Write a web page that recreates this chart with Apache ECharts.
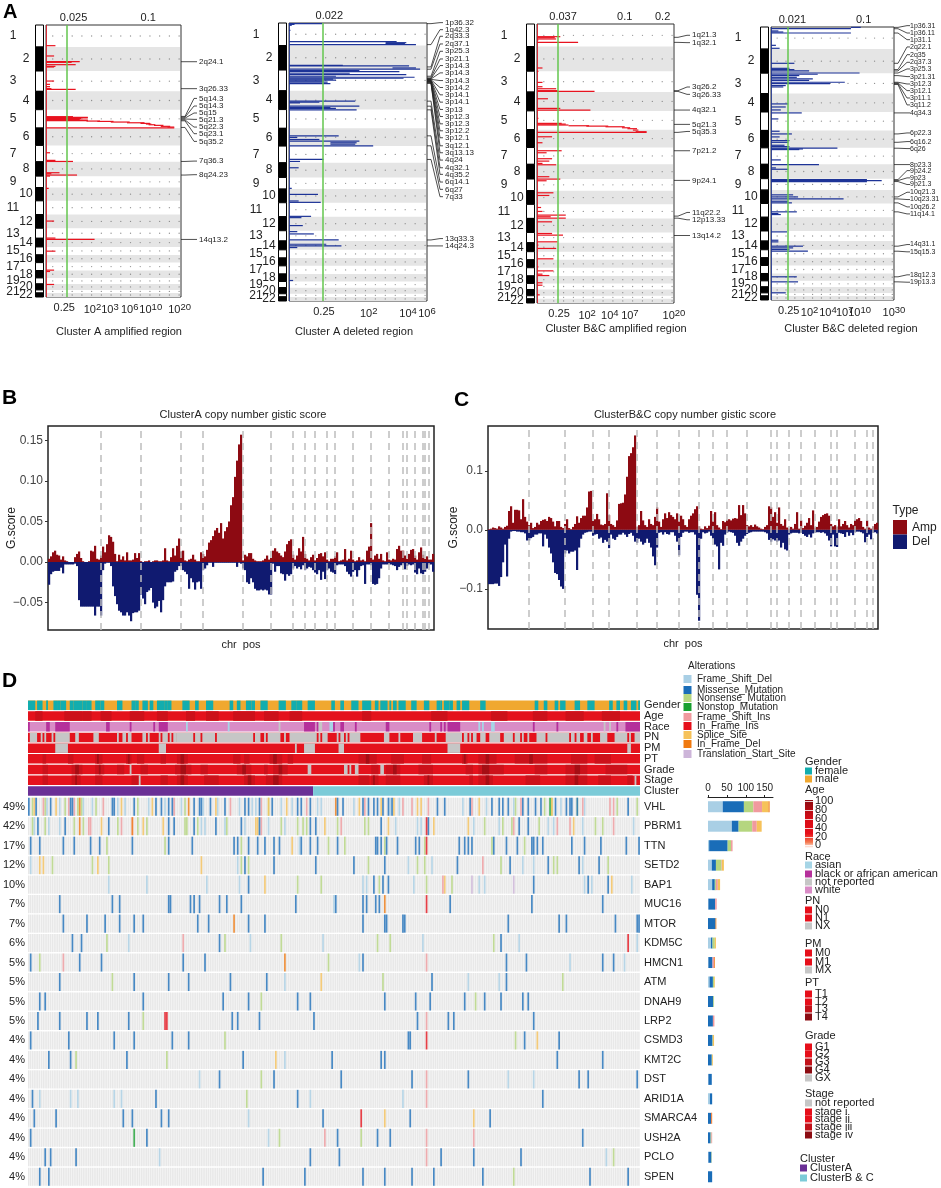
<!DOCTYPE html>
<html>
<head>
<meta charset="utf-8">
<style>html,body{margin:0;background:#fff}#chart{width:941px;height:1188px}</style>
<script src="https://cdn.jsdelivr.net/npm/echarts@6/dist/echarts.min.js"></script>
</head>
<body>
<div id="chart"></div>
<script>
// chromosome extents along the y axis of the four GISTIC panels
var chromLengths = [246,268,227,205,205,194,183,160,127,149,153,153,112,97,89,86,89,82,67,67,34,45];

// panel A: [genome position, score on the display scale 0-100, optional score the stroke starts from]
var peaksAmpA = [[231,7],[346,6],[410,25],[417,19],[443,22],[462,7],[469,6],[626,6],[663,3],[689,3],[711,4],[719,22],
  [1024,20],[1032,31],[1039,31],[1046,26],[1054,25],[1062,31],[1069,31],[1073,40,30],[1077,50,38],[1084,62,48],[1092,73,60],[1099,77,70],[1106,78,74],[1114,81,76],[1121,87,80],[1132,92,85],[1140,95,90],[1148,95],
  [1427,3],[1512,7],[1524,20],[1650,10],[1661,4],[1676,23],[1687,3],[1825,2],[2190,6],[2380,7],[2395,36],[2526,7],[2738,6],[2753,3],[2898,6]];
var peaksDelA = [[7,24],[15,4],[25,2],[80,1],[204,78],[215,85,70],[225,84,70],[236,92],[462,39],[469,87],[491,92,75],[505,95],[520,51],[531,80],[549,44],[564,85],[582,34],[593,91],[604,83],[614,32],[625,34],[636,25],[647,28],[662,30],
  [854,48],[865,22],[873,8],[909,51],[924,30],[934,34],[949,49],[1233,36],[1251,6],[1273,22],[1291,51],[1309,49,30],[1324,48,30],[1342,61],[1491,25],[1513,8],[1582,7],[1807,2],[1873,21],[1945,7],[1960,23],
  [2113,16],[2127,9],[2214,10],[2280,6],[2305,18],[2371,36],[2418,27],[2436,38],[2454,6],[2814,3]];
var peaksAmpBC = [[138,17],[149,13],[163,14],[174,1],[200,30],[479,4],[516,1],[636,4],[683,4],[705,14],[726,15],[734,42],[814,8],[919,17],[937,39],[1028,1],
  [1082,18],[1090,21],[1100,23],[1108,38,23],[1112,52,36],[1119,64,50],[1130,68,62],[1140,73,66],[1155,74,70],[1173,80,72],[1180,80],[1228,11],[1293,4],[1380,18],[1402,7],[1467,11],[1493,9],[1518,4],[1533,14],[1663,9],[1689,17],[1707,7],
  [1838,12],[1867,9],[1998,3],[2041,4],[2081,21],[2099,10],[2114,21],[2154,11],[2281,11],[2299,19],[2372,15],[2408,1],[2444,14],[2557,12],[2644,1],[2688,12],[2724,4],[2739,9],[2818,4],[2844,4],[2949,2]];
var peaksDelBC = [[4,73,65],[19,65],[44,6],[56,10],[67,65],[204,4],[237,7],[404,19],[460,15],[474,19],[489,31],[512,72],[526,38],[541,23],[560,21],[578,34],[593,31],[615,60],[630,48],[652,12],[667,10],
  [856,14],[890,12],[923,8],[956,25],[1023,6],[1160,7],[1190,17],[1223,7],[1264,15],[1283,14],[1316,11],[1331,15],[1349,54],[1357,26],[1364,23],[1479,8],[1531,39],[1568,4],[1583,14],[1698,78],[1709,90],[1720,78],
  [1868,18],[1891,22],[1913,59],[1939,14],[1957,17],[2057,21],[2076,6],[2087,8],[2280,13],[2373,6],[2391,6],[2439,26],[2458,18],[2476,15],[2495,30],[2780,21],[2836,22],[2958,12]];

// peak labels: names and [peak position, label position]
var labelNamesAmpA = ['2q24.1','3q26.33','5q14.3','5q14.3','5q15','5q21.3','5q22.3','5q23.1','5q35.2','7q36.3','8q24.23','14q13.2'];
var labelPosAmpA = [[410,410],[711,711],[1021,820],[1030,905],[1040,983],[1050,1054],[1060,1140],[1070,1214],[1144,1300],[1524,1520],[1676,1672],[2395,2395]];
var labelNamesDelA = ['1p36.32','1q42.3','2q33.3','2q37.1','3p25.3','3p21.1','3p14.3','3p14.3','3p14.3','3p14.2','3p14.1','3p14.1','3p13','3p12.3','3p12.3','3p12.2','3p12.1','3q12.1','3q13.13','4q24','4q32.1','4q35.2','6q14.1','6q27','7q33','13q33.3','14q24.3'];
var labelPosDelA = [[7,-4],[236,73],[480,145],[505,229],[582,309],[600,393],[608,465],[612,545],[616,629],[620,705],[624,785],[628,865],[632,945],[636,1022],[640,1102],[644,1178],[648,1254],[654,1342],[660,1418],[854,1498],[909,1582],[949,1654],[1233,1738],[1342,1818],[1491,1898],[2371,2356],[2436,2436]];
var labelNamesAmpBC = ['1q21.3','1q32.1','3q26.2','3q26.33','4q32.1','5q21.3','5q35.3','7p21.2','9p24.1','11q22.2','12p13.33','13q14.2'];
var labelPosAmpBC = [[145,123],[200,203],[726,686],[734,766],[937,937],[1093,1093],[1180,1170],[1380,1380],[1703,1703],[2092,2052],[2114,2132],[2303,2303]];
var labelNamesDelBC = ['1p36.31','1p36.11','1p31.1','2q22.1','2q35','2q37.3','3p25.3','3p21.31','3p12.3','3p12.1','3p11.1','3q11.2','4q34.3','6p22.3','6q16.2','6q26','8p23.3','9p24.2','9p23','9p21.3','10q21.3','10q23.31','10q26.2','11q14.1','14q31.1','15q15.3','18q12.3','19p13.3'];
var labelPosDelBC = [[4,-15],[19,67],[67,141],[404,222],[474,308],[489,393],[512,467],[541,552],[615,634],[623,708],[630,790],[640,867],[956,956],[1190,1179],[1283,1275],[1349,1353],[1531,1531],[1698,1598],[1709,1679],[1720,1753],[1891,1839],[1913,1920],[1957,2002],[2057,2080],[2439,2421],[2495,2502],[2780,2758],[2836,2840]];

// tick labels of the four panels, positions on the 0-100 display scale
var bottomPosAmpA = [13.5,34.4,47.4,62,77.6,99], bottomNamesAmpA = ['0.25','10^2','10^3','10^6','10^10','10^20'];
var topPosAmpA = [20.4,75.7], topNamesAmpA = ['0.025','0.1'];
var bottomPosDelA = [25.3,57.8,86.3,100], bottomNamesDelA = ['0.25','10^2','10^4','10^6'];
var topPosDelA = [29.2], topNamesDelA = ['0.022'];
var bottomPosAmpBC = [16.1,36.6,53.2,67.8,100], bottomNamesAmpBC = ['0.25','10^2','10^4','10^7','10^20'];
var topPosAmpBC = [19,64,91.7], topNamesAmpBC = ['0.037','0.1','0.2'];
var bottomPosDelBC = [14.4,31.4,46.3,59.9,72,100], bottomNamesDelBC = ['0.25','10^2','10^4','10^7','10^10','10^30'];
var topPosDelBC = [17.4,75.3], topNamesDelBC = ['0.021','0.1'];

// panels B and C: G score in thousandths, one value per genome bin
var ampB = [4,7,12,14,9,8,3,7,2,1,0,0,0,6,10,13,5,1,0,0,
  1,14,13,20,4,3,8,19,12,22,33,31,25,10,1,9,3,7,2,12,
  2,2,3,11,5,11,1,0,1,1,2,0,1,2,2,1,1,2,17,2,
  1,6,17,8,20,29,13,14,2,1,3,4,9,3,1,1,12,10,7,15,
  24,27,32,39,42,36,48,29,38,43,50,70,80,105,125,145,157,2,9,7,
  11,11,4,2,1,1,1,2,4,8,3,5,14,17,13,11,8,6,13,22,
  26,28,9,3,8,17,13,31,10,4,2,6,9,2,5,10,11,7,12,3,
  1,4,4,7,12,1,2,3,16,2,4,14,3,1,2,6,2,3,1,14,
  19,48,3,8,10,4,10,2,1,12,3,2,4,3,16,20,14,14,8,4,
  10,15,16,8,3,12,18,9,4,7,3,3,10];
var delB = [28,15,12,11,11,11,7,14,3,3,3,3,3,2,5,47,55,55,55,55,
  55,55,55,66,55,55,66,10,2,1,1,5,30,42,52,60,62,66,66,62,
  66,73,63,62,62,60,40,45,52,37,35,32,50,57,55,48,62,47,30,25,
  25,25,24,12,10,5,5,10,12,15,33,20,25,34,25,24,33,10,8,4,
  1,1,6,1,1,1,1,1,1,1,1,1,1,1,6,1,2,8,10,25,
  27,20,25,33,35,35,34,35,34,35,40,40,2,12,5,5,14,15,23,15,
  17,15,8,5,8,6,9,4,10,8,6,7,10,13,15,10,22,12,21,10,
  8,12,13,15,4,3,3,3,5,12,15,18,12,10,18,10,5,4,27,3,
  3,4,27,28,27,20,8,3,3,3,3,3,4,5,10,6,4,3,9,5,
  3,4,3,13,15,8,14,15,12,8,3,3,12];
var ampC = [1,2,4,3,2,6,4,2,5,7,32,40,12,34,34,33,18,52,22,14,
  8,12,3,5,12,9,15,17,18,15,22,20,14,6,15,15,5,3,10,18,
  3,1,5,10,23,12,20,24,24,38,65,66,15,18,27,18,9,8,10,62,
  25,10,8,5,16,44,45,46,60,90,125,130,140,160,5,8,32,16,8,5,
  18,10,8,22,38,14,5,18,28,20,30,25,22,18,28,14,24,18,8,5,
  18,24,28,35,40,6,2,1,6,3,7,32,14,30,8,4,1,15,13,17,
  18,16,19,20,19,42,25,42,28,8,6,8,5,9,6,4,2,1,5,8,
  40,38,22,30,12,38,10,7,18,4,2,5,2,10,30,2,16,3,7,12,
  20,8,33,4,5,14,22,25,27,28,24,10,6,8,5,18,6,10,15,8,
  4,10,8,16,18,20,15,5,2,16,4,2,6,10,12];
var delC = [92,92,92,91,91,95,80,55,25,79,15,3,2,2,3,3,4,4,6,18,
  18,14,12,8,8,6,6,28,8,15,30,40,55,73,75,85,96,100,40,35,
  40,37,37,35,68,30,15,8,5,4,3,3,10,8,7,15,13,22,17,20,
  31,8,15,17,12,8,8,5,8,12,7,5,10,20,22,15,20,25,22,15,
  22,30,45,60,30,5,4,8,4,7,8,4,4,10,20,43,12,5,3,3,
  5,4,4,8,110,154,15,4,6,5,3,10,15,25,28,67,22,27,8,5,
  3,4,5,10,22,27,20,15,10,7,5,4,3,3,3,3,3,3,4,6,
  17,20,16,18,20,18,30,22,33,35,8,6,5,5,5,6,5,7,10,12,
  8,13,6,5,4,4,5,4,6,10,18,28,8,28,29,5,6,7,12,4,
  10,5,9,4,3,3,4,6,21,12,8,16,5,4,6];
var breaksB = [26,46,66,77,97,111,122,128,133,139,143,152,161,170,177,179,183,187,188,190];
var breaksC = [20,38,52,60,74,84,95,105,112,119,129,141,144,150,156,163,171,174,183,189,192];

// panel D
var sampleCount = 337;
var clusterAEnd = 156;
var trackNames = ['Gender','Age','Race','PN','PM','PT','Grade','Stage','Cluster'];
var geneNames = ['VHL','PBRM1','TTN','SETD2','BAP1','MUC16','MTOR','KDM5C','HMCN1','ATM','DNAH9','LRP2','CSMD3','KMT2C','DST','ARID1A','SMARCA4','USH2A','PCLO','SPEN'];
var genePercents = ['49%','42%','17%','12%','10%','7%','7%','6%','5%','5%','5%','5%','4%','4%','4%','4%','4%','4%','4%','4%'];

// annotation tracks as runs of samples [first, last]
var genderFemale = [[0,3],[5,7],[10,10],[14,15],[16,17],[18,20],[23,24],[25,29],[30,31],[32,34],[37,39],[40,41],[49,51],[57,58],[59,60],[63,65],[67,68],[71,74],[75,76],[77,78],[85,86],[87,88],[92,93],[98,101],[111,112],[115,116],[120,122],[123,124],[128,131],[138,141],[145,147],[148,150],[154,157],[167,168],[172,173],[178,181],[184,188],[191,192],[194,197],[199,199],[201,202],[204,207],[211,213],[218,220],[225,226],[227,227],[229,231],[232,233],[236,237],[239,242],[249,251],[279,280],[284,285],[290,291],[293,295],[301,303],[308,309],[310,311],[320,321],[324,325],[328,329],[332,334],[336,336]];
var raceBlack = [[0,0],[10,11],[15,22],[43,44],[56,56],[69,69],[72,76],[152,157],[159,159],[167,168],[172,173],[180,180],[197,198],[221,221],[227,227],[229,229],[231,237],[278,278],[291,291],[324,324],[329,336]];
var raceAsian = [[87,87],[110,110],[166,167],[248,248],[250,250],[255,256]];
var raceNotReported = [[138,138],[160,161],[317,317],[320,320]];
var pnNX = [[1,4],[7,7],[9,9],[13,13],[15,22],[26,27],[36,38],[49,49],[52,53],[55,56],[63,64],[66,66],[72,72],[74,76],[78,78],[80,81],[82,90],[92,94],[96,102],[104,123],[125,127],[130,130],[132,138],[141,141],[144,158],[160,160],[162,164],[170,170],[172,173],[175,175],[177,182],[196,198],[204,204],[212,216],[224,224],[230,238],[240,241],[243,243],[245,246],[249,251],[254,259],[262,266],[268,270],[272,272],[275,275],[280,284],[286,297],[299,300],[302,303],[306,307],[310,310],[315,318],[323,329],[331,331],[334,336]];
var pmMX = [[15,21],[72,75],[147,147],[152,157],[171,173],[231,237],[330,331]];
var gradeGX = [[56,56],[154,155],[174,175],[177,177],[180,181],[194,195]];
var stageNotReported = [[61,61],[334,334]];
var ageDark = [[4,7],[20,29],[30,34],[40,45],[56,63],[71,76],[87,91],[98,104],[113,124],[130,137],[144,150],[184,188],[222,230],[255,263],[278,285],[296,305],[316,325]];
var ptDark = [[8,9],[22,24],[37,40],[54,56],[60,63],[73,75],[82,87],[113,116],[119,121],[133,139],[143,145],[182,191],[200,206],[217,221],[239,241],[248,257],[268,285],[299,307],[312,320]];
var ptDarkest = [[38,38],[55,55],[84,85],[135,136],[186,187],[240,240],[252,253],[276,277]];
var gradeDark = [[8,10],[24,29],[37,41],[49,52],[62,65],[81,89],[95,98],[115,122],[130,131],[135,142],[189,192],[197,204],[215,222],[241,244],[248,261],[279,285],[296,307],[318,329]];
var gradeDarkest = [[26,27],[39,39],[84,86],[118,119],[138,139],[201,202],[250,253],[301,303]];
var stageDark = [[8,10],[24,28],[37,40],[57,60],[73,76],[82,87],[97,104],[119,124],[131,139],[182,187],[189,192],[197,204],[218,222],[243,244],[248,255],[274,281],[296,307],[314,320],[330,332]];
var stageDarkest = [[26,26],[84,85],[121,122],[135,137],[190,190],[220,220],[252,253],[301,302]];

// mutated samples per gene (same order as geneNames), one list per alteration type
var frameShiftDel = [
  [10,17,30,35,49,53,66,75,84,96,104,116,123,125,139,145,159,161,179,199,204,239,252,267,293,306],
  [3,11,17,95,97,108,119,132,141,202,214,216,245,259,286,289,305,333],
  [149],[1,115,209,222,272,278,305],[44,65,98,116,184,186,212,248,251,306,310,332],[168],[],
  [55,122,162,217,270,335],[182,298,328],[141,242,259],[],[],[],[141],[94,264,278],
  [6,23,27,47,51,155,206],[121],[132],[72,318],[]];
var missense = [
  [0,4,12,23,24,46,47,58,70,73,77,79,91,94,95,100,108,119,121,127,134,148,150,155,170,173,184,187,190,192,195,198,200,225,229,243,255,259,261,264,272,275,279,282,290,296,298,299,302,330],
  [5,20,44,77,80,91,103,117,127,155,158,194,220,270,275],
  [1,6,19,25,34,39,57,77,90,113,115,121,126,130,135,138,150,155,159,170,191,192,194,197,203,213,215,237,240,242,244,256,263,269,277,278,280,283,299,306,315,329,336],
  [119,135,158,179,196,236,265,286,303,314],
  [121,190,195,198,278,308,319],
  [17,46,50,77,78,89,91,94,105,109,117,147,169,184,186,191,193,232,277,316],
  [19,32,42,50,58,63,93,99,121,130,184,196,197,206,207,264,292,296,323,335,336],
  [24,29,105,260],
  [1,28,40,85,97,184,263,274,316,322],
  [17,58,77,88,111,131,222,263],
  [6,9,63,107,121,148,155,196,213,221,240,251,260,272,275],
  [5,17,32,38,55,112,115,127,157,214,231,234,278],
  [1,22,47,58,79,88,209,210,273,292],
  [11,23,54,118,167,194,196,291,316],
  [105,135,172,211,242,303,308,335],
  [2,70,148,283],
  [3,15,52,57,73,77,162,210,254],
  [1,65,170,192,199,305],
  [9,12,26,155,171,227,245,271],
  [6,11,129,152,184,196,211,223,250,309,330]];
var nonsense = [
  [2,9,20,27,29,37,60,86,132,268,284,288,302,324,335],
  [2,9,25,30,49,60,65,86,87,93,109,139,148,151,153,170,185,187,251,261,266,281,312,316],
  [43,75,117,165,174,196,218,255,273],
  [13,35,44,117,121,187,214,218,260,289,291,319],
  [148,161,193,219,233],[],[],
  [43,108,139,192,199,256],[6,165],[46,195,294],[128,246],[63],[108,268],[26,76],[128],[120],[],
  [138,183],[322],[267]];
var nonstop = [[287],[],[],[],[],[],[],[],[],[],[],[],[],[],[],[],[],[58],[],[]];
var frameShiftIns = [
  [8,22,25,41,80,111,128,153,185,206,211,220,244,271,305,320,322],
  [33,34,51,57,128,172,267,291,298,322],
  [],[250],[228],[],[],[85],[19,219],[],[],[219],[],[],[219],[219],[],[163,219,245],[219],[]];
var inFrameIns = [[],[219],[219],[],[],[219],[],[330],[],[],[],[75,76],[219],[],[],[],[183],[],[],[]];
var spliceSite = [
  [3,15,51,68,103,132,142,182,194,201,214,216,248,288],
  [40,63,74,125,126,163,198,223,242,300],
  [145],[6,8,38,95],[130,229,321],[],[],[],[],[161],[],[],[280],[136],[],[],[196,245],[],[],[]];
var inFrameDel = [[28,88,169],[28,57],[],[],[],[196],[113],[],[141],[],[],[],[],[],[],[],[],[],[],[]];
var translationStart = [[],[],[],[],[244,267],[],[],[],[],[],[],[],[],[],[],[],[],[],[],[]];

// counts per gene for the side bars
var countFrameShiftDel = [39,63,3,10,11,1,0,8,1,4,0,0,0,0,1,5,0,0,1,0];
var countMissense = [56,18,49,11,7,18,20,4,11,9,14,13,12,10,9,6,8,7,8,11];
var countNonsense = [25,36,9,15,3,0,0,6,0,3,2,0,1,1,0,0,0,2,1,0];
var countNonstop = [0,0,0,0,0,0,0,0,0,0,0,0,0,0,0,0,0,0,0,0];
var countFrameShiftIns = [23,12,4,1,5,4,0,0,4,0,0,4,0,0,0,0,0,2,0,0];
var countInFrameIns = [0,0,0,0,0,0,0,0,0,0,0,0,0,0,0,0,1,0,0,0];
var countSplice = [17,13,0,5,6,0,0,3,0,2,0,0,3,2,0,0,0,0,0,0];
var countInFrameDel = [3,0,0,0,0,0,2,0,2,0,0,0,0,0,0,0,2,0,0,0];

var alterationNames = ['Frame_Shift_Del','Missense_Mutation','Nonsense_Mutation','Nonstop_Mutation','Frame_Shift_Ins','In_Frame_Ins','Splice_Site','In_Frame_Del','Translation_Start_Site'];
var alterationColors = ['#a9cfe5','#1a6db8','#b5d67f','#18a030','#f09a9e','#e60f1a','#f6c25a','#f07a10','#cdb5d9'];

var AMP = '#8d0a12', DEL = '#101a70', RED = '#e60f1a', RED2 = '#c2121a', RED3 = '#8c0c12', GREY = '#c6c6c6';
var FONT = '"Liberation Sans", Arial, sans-serif';

var chromStarts = [];
chromLengths.reduce(function (sum, len, i) { chromStarts[i] = sum; return sum + len; }, 0);
var genomeLength = chromStarts[21] + chromLengths[21];

function text(x, y, str, size, opts) {
    opts = opts || {};
    return {
        type: 'text', x: x, y: y, rotation: opts.rotation || 0, silent: true,
        style: {
            text: str, font: (opts.bold ? 'bold ' : '') + size + 'px ' + FONT, fill: opts.color || '#222',
            align: opts.align || 'left', verticalAlign: 'middle', textAlign: opts.align || 'left', textVerticalAlign: 'middle'
        }
    };
}

function tickFormatter(positions, names) {
    return function (value) {
        var name = names[positions.indexOf(value)] || '';
        var parts = name.split('^');
        return parts.length > 1 ? '{b|' + parts[0] + '}{s|' + parts[1] + '}' : name;
    };
}

var grids = [], xAxes = [], yAxes = [], series = [];

function addGisticPanel(box, peaks, color, greenAt, bottomPos, bottomNames, topPos, topNames, labelPos, labelNames) {
    var g = grids.length;
    grids.push({ left: box.left, top: box.top, width: box.width, height: box.height, outerBoundsMode: 'none', show: true, borderColor: '#333', borderWidth: 1, backgroundColor: 'transparent' });
    var xi = xAxes.length;
    xAxes.push({
        gridIndex: g, type: 'value', min: 0, max: 100, position: 'bottom', axisLine: { show: false }, axisTick: { show: false }, splitLine: { show: false },
        axisLabel: {
            customValues: bottomPos, margin: 5, hideOverlap: false, color: '#222', fontSize: 11, formatter: tickFormatter(bottomPos, bottomNames),
            rich: { b: { fontSize: 11, color: '#222' }, s: { fontSize: 9.5, color: '#222', padding: [0, 0, 6, 0] } }
        }
    });
    xAxes.push({
        gridIndex: g, type: 'value', min: 0, max: 100, position: 'top', axisLine: { show: false }, axisTick: { show: false }, splitLine: { show: false },
        axisLabel: { customValues: topPos, margin: 2, color: '#222', fontSize: 11, formatter: tickFormatter(topPos, topNames) }
    });
    var yi = yAxes.length;
    yAxes.push({ gridIndex: g, type: 'value', min: 0, max: genomeLength, inverse: true, show: false, splitLine: { show: false } });

    var chromData = chromLengths.map(function (len, i) { return [i, chromStarts[i], chromStarts[i] + len]; });
    // grey bands of the even chromosomes, ideogram and chromosome numbers
    series.push({
        type: 'custom', xAxisIndex: xi, yAxisIndex: yi, z: 1, silent: true, data: chromData,
        renderItem: function (params, api) {
            var i = api.value(0), a = api.coord([0, api.value(1)]), b = api.coord([100, api.value(2)]);
            var even = i % 2 === 1, children = [];
            if (even) children.push({ type: 'rect', shape: { x: a[0] + 1, y: a[1], width: b[0] - a[0] - 2, height: b[1] - a[1] }, style: { fill: '#e5e5e5' } });
            children.push({ type: 'rect', shape: { x: a[0] - 10.5, y: a[1], width: 8, height: b[1] - a[1] }, style: { fill: even ? '#000' : '#fff', stroke: '#000', lineWidth: 1 } });
            children.push({
                type: 'text',
                style: { text: String(i + 1), x: a[0] - (even ? 20 : 33), y: (a[1] + b[1]) / 2, font: '12px ' + FONT, fill: '#222', align: 'center', verticalAlign: 'middle', textAlign: 'center', textVerticalAlign: 'middle' }
            });
            return { type: 'group', children: children };
        }
    });
    // dotted guide at every chromosome centre
    var dots = [];
    chromLengths.forEach(function (len, i) {
        for (var d = 5; d < 100; d += 7.2) dots.push([d, chromStarts[i] + len / 2]);
    });
    series.push({ type: 'scatter', xAxisIndex: xi, yAxisIndex: yi, z: 2, silent: true, symbolSize: 1.3, itemStyle: { color: '#777' }, data: dots });
    series.push({
        type: 'custom', xAxisIndex: xi, yAxisIndex: yi, z: 3, silent: true,
        data: peaks.map(function (p) { return [p[0], p[1], p[2] || 0]; }),
        renderItem: function (params, api) {
            var a = api.coord([api.value(2), api.value(0)]), b = api.coord([api.value(1), api.value(0)]);
            return { type: 'rect', shape: { x: a[0], y: a[1] - 0.6, width: b[0] - a[0], height: 1.2 }, style: { fill: color } };
        },
        markLine: {
            silent: true, symbol: 'none', label: { show: false }, animation: false, lineStyle: { color: '#63c64e', width: 1.5, type: 'solid' },
            data: [{ xAxis: greenAt }, { xAxis: 0.3, lineStyle: { color: color, width: 0.8, type: 'solid' } }]
        }
    });
    // labels of the peaks with their leader lines
    series.push({
        type: 'custom', xAxisIndex: xi, yAxisIndex: yi, z: 4, silent: true, data: labelPos,
        renderItem: function (params, api) {
            var p = api.coord([100, api.value(0)]), l = api.coord([100, api.value(1)]);
            return {
                type: 'group',
                children: [
                    { type: 'polyline', shape: { points: [[p[0], p[1]], [p[0] + 4, p[1]], [p[0] + 13, l[1]], [p[0] + 16, l[1]]] }, style: { stroke: '#222', lineWidth: 0.8, fill: 'none' } },
                    { type: 'text', style: { text: labelNames[params.dataIndex], x: p[0] + box.labelGap, y: l[1], font: box.labelSize + 'px ' + FONT, fill: '#222', align: 'left', verticalAlign: 'middle', textAlign: 'left', textVerticalAlign: 'middle' } }
                ]
            };
        }
    });
}

addGisticPanel({ left: 46, top: 25, width: 135, height: 272, labelGap: 18, labelSize: 8 }, peaksAmpA, '#e8131f', 15.5, bottomPosAmpA, bottomNamesAmpA, topPosAmpA, topNamesAmpA, labelPosAmpA, labelNamesAmpA);
addGisticPanel({ left: 289, top: 23, width: 138, height: 278, labelGap: 18, labelSize: 8 }, peaksDelA, '#1d3397', 24.1, bottomPosDelA, bottomNamesDelA, topPosDelA, topNamesDelA, labelPosDelA, labelNamesDelA);
addGisticPanel({ left: 537, top: 24, width: 137, height: 279, labelGap: 18, labelSize: 8 }, peaksAmpBC, '#e8131f', 15.4, bottomPosAmpBC, bottomNamesAmpBC, topPosAmpBC, topNamesAmpBC, labelPosAmpBC, labelNamesAmpBC);
addGisticPanel({ left: 771, top: 27, width: 123, height: 273, labelGap: 16, labelSize: 7 }, peaksDelBC, '#1d3397', 13.6, bottomPosDelBC, bottomNamesDelBC, topPosDelBC, topNamesDelBC, labelPosDelBC, labelNamesDelBC);

// one seamless column per genome bin
function binRenderer(color) {
    return function (params, api) {
        var base = api.coord([api.value(0), 0]), tip = api.coord([api.value(0), api.value(1)]), w = api.size([1, 0])[0];
        return {
            type: 'rect',
            shape: { x: base[0] - w / 2, y: Math.min(base[1], tip[1]), width: w + 0.2, height: Math.max(Math.abs(tip[1] - base[1]), 0.8) },
            style: { fill: color }
        };
    };
}

function addScorePanel(box, amp, del, breaks, yMin, yMax, ticks, decimals) {
    var g = grids.length;
    grids.push({ left: box.left, top: box.top, width: box.width, height: box.height, outerBoundsMode: 'none', show: true, borderColor: '#222', borderWidth: 1.5, backgroundColor: 'transparent' });
    var xi = xAxes.length;
    xAxes.push({
        gridIndex: g, type: 'category', data: amp.map(function (v, i) { return i; }), boundaryGap: true,
        axisLine: { show: false }, axisTick: { show: false }, axisLabel: { show: false }, splitLine: { show: false },
        name: 'chr  pos', nameLocation: 'middle', nameGap: 9, nameMoveOverlap: false, nameTextStyle: { fontSize: 11, color: '#222' }
    });
    var yi = yAxes.length;
    yAxes.push({
        gridIndex: g, type: 'value', min: yMin, max: yMax, splitLine: { show: false }, axisLine: { show: false },
        axisTick: { show: true, customValues: ticks, length: 3, lineStyle: { color: '#333' } },
        axisLabel: {
            customValues: ticks, margin: 5, color: '#444', fontSize: 12,
            formatter: function (v) { return (v < 0 ? '\u2212' : '') + (Math.abs(v) / 1000).toFixed(decimals); }
        },
        name: 'G.score', nameLocation: 'middle', nameGap: box.nameGap, nameRotate: 90, nameMoveOverlap: false, nameTextStyle: { fontSize: 12, color: '#222' }
    });
    series.push({
        name: 'Amp', type: 'custom', xAxisIndex: xi, yAxisIndex: yi, z: 2, silent: true,
        data: amp.map(function (v, i) { return [i, v]; }), itemStyle: { color: AMP }, renderItem: binRenderer(AMP),
        markLine: {
            silent: true, symbol: 'none', label: { show: false }, animation: false, z: 6,
            lineStyle: { color: '#bdbdbd', width: 1.5, type: [7, 5] },
            data: breaks.map(function (b) { return { xAxis: b }; })
        }
    });
    series.push({
        name: 'Del', type: 'custom', xAxisIndex: xi, yAxisIndex: yi, z: 3, silent: true,
        data: del.map(function (v, i) { return [i, -v]; }), itemStyle: { color: DEL }, renderItem: binRenderer(DEL)
    });
}

addScorePanel({ left: 48, top: 426, width: 386, height: 204, nameGap: 30 }, ampB, delB, breaksB, -83.8, 167.7, [-50, 0, 50, 100, 150], 2);
addScorePanel({ left: 488, top: 426, width: 390, height: 203, nameGap: 28 }, ampC, delC, breaksC, -168, 176, [-100, 0, 100], 1);

// oncoplot annotation tracks
function runs(row, list, color) {
    return list.map(function (r) { return [row, r[0], r[1], color]; });
}
var trackColors = ['#f0a830', '#12adae', '#e4121c', '#cc111a', '#a50e14', '#d98cc6', '#b5309b', '#a6d5e6', GREY, '#6a3096', '#7ccbd8'];
var trackRuns = [].concat(
    [[0, 0, sampleCount - 1, 0]], runs(0, genderFemale, 1),
    [[1, 0, sampleCount - 1, 2]], runs(1, ageDark, 3),
    [[2, 0, sampleCount - 1, 5]], runs(2, raceBlack, 6), runs(2, raceAsian, 7), runs(2, raceNotReported, 8),
    [[3, 0, sampleCount - 1, 2]], runs(3, pnNX, 8),
    [[4, 0, sampleCount - 1, 2]], runs(4, pmMX, 8),
    [[5, 0, sampleCount - 1, 2]], runs(5, ptDark, 3), runs(5, ptDarkest, 4),
    [[6, 0, sampleCount - 1, 2]], runs(6, gradeDark, 3), runs(6, gradeDarkest, 4), runs(6, gradeGX, 8),
    [[7, 0, sampleCount - 1, 2]], runs(7, stageDark, 3), runs(7, stageDarkest, 4), runs(7, stageNotReported, 8),
    [[8, 0, clusterAEnd, 9], [8, clusterAEnd + 1, sampleCount - 1, 10]]
);
var trackGrid = grids.length;
grids.push({ left: 28, top: 700, width: 612, height: 96.3, outerBoundsMode: 'none' });
var trackX = xAxes.length;
xAxes.push({ gridIndex: trackGrid, type: 'value', min: 0, max: sampleCount, show: false, splitLine: { show: false } });
var trackY = yAxes.length;
yAxes.push({
    gridIndex: trackGrid, type: 'category', data: trackNames, inverse: true, position: 'right',
    axisLine: { show: false }, axisTick: { show: false }, axisLabel: { color: '#222', fontSize: 11, margin: 4, interval: 0 }
});
series.push({
    type: 'custom', xAxisIndex: trackX, yAxisIndex: trackY, silent: true, data: trackRuns,
    renderItem: function (params, api) {
        var a = api.coord([api.value(1), api.value(0)]), b = api.coord([api.value(2) + 1, api.value(0)]), h = api.size([0, 1])[1] - 1.2;
        return { type: 'rect', shape: { x: a[0], y: a[1] - h / 2, width: b[0] - a[0], height: h }, style: { fill: trackColors[api.value(3)] } };
    }
});

// oncoplot mutation matrix
var matrixGrid = grids.length;
grids.push({ left: 28, top: 797, width: 612, height: 389.5, outerBoundsMode: 'none' });
var matrixX = xAxes.length;
xAxes.push({ gridIndex: matrixGrid, type: 'value', min: 0, max: sampleCount, show: false, splitLine: { show: false } });
var matrixY = yAxes.length;
yAxes.push({
    gridIndex: matrixGrid, type: 'category', data: geneNames, inverse: true, position: 'right',
    axisLine: { show: false }, axisTick: { show: false }, axisLabel: { color: '#222', fontSize: 11, margin: 4, interval: 0 }
});
yAxes.push({
    gridIndex: matrixGrid, type: 'category', data: genePercents, inverse: true, position: 'left',
    axisLine: { show: false }, axisTick: { show: false }, axisLabel: { color: '#222', fontSize: 11, margin: 3, interval: 0 }
});

function cellRenderer(color, gap, opacity) {
    return function (params, api) {
        var a = api.coord([api.value(0), api.value(1)]), b = api.coord([api.value(0) + 1, api.value(1)]), h = api.size([0, 1])[1] - 1.4;
        return { type: 'rect', shape: { x: a[0], y: a[1] - h / 2, width: b[0] - a[0] - gap, height: h }, style: { fill: color, opacity: opacity } };
    };
}
var matrixCells = [];
geneNames.forEach(function (g, row) {
    for (var s = 0; s < sampleCount; s++) matrixCells.push([s, row]);
});
series.push({ type: 'custom', xAxisIndex: matrixX, yAxisIndex: matrixY, silent: true, z: 1, data: matrixCells, renderItem: cellRenderer('#e8e8e8', 0.35, 1) });

var alterationLists = [frameShiftDel, missense, nonsense, nonstop, frameShiftIns, inFrameIns, spliceSite, inFrameDel, translationStart];
[0, 2, 6, 4, 8, 7, 3, 1, 5].forEach(function (t) {
    var cells = [];
    alterationLists[t].forEach(function (samples, row) {
        samples.forEach(function (s) { cells.push([s, row]); });
    });
    series.push({ type: 'custom', xAxisIndex: matrixX, yAxisIndex: matrixY, silent: true, z: 2, data: cells, renderItem: cellRenderer(alterationColors[t], 0.1, 0.78) });
});

// side bars with the mutation counts
var barGrid = grids.length;
grids.push({ left: 708, top: 797, width: 65, height: 389.5, outerBoundsMode: 'none' });
var barX = xAxes.length;
xAxes.push({
    gridIndex: barGrid, type: 'value', min: 0, max: 172, position: 'top', splitLine: { show: false },
    axisLine: { show: true, lineStyle: { color: '#222', width: 1 } },
    axisTick: { show: true, customValues: [0, 50, 100, 150], length: 2, lineStyle: { color: '#222' } },
    axisLabel: { customValues: [0, 50, 100, 150], color: '#222', fontSize: 10, margin: 4 }
});
var barY = yAxes.length;
yAxes.push({ gridIndex: barGrid, type: 'category', data: geneNames, inverse: true, show: false });
[countFrameShiftDel, countMissense, countNonsense, countNonstop, countFrameShiftIns, countInFrameIns, countSplice, countInFrameDel].forEach(function (counts, t) {
    series.push({ type: 'bar', xAxisIndex: barX, yAxisIndex: barY, stack: 'genes', barWidth: 11, silent: true, data: counts, itemStyle: { color: alterationColors[t] } });
});

// legends and titles of the figure
var graphics = [
    text(3, 12, 'A', 20, { bold: true, color: '#000' }),
    text(2, 398, 'B', 21, { bold: true, color: '#000' }),
    text(454, 400, 'C', 21, { bold: true, color: '#000' }),
    text(2, 681, 'D', 21, { bold: true, color: '#000' }),
    text(119, 332, 'Cluster A amplified region', 11, { align: 'center' }),
    text(354, 332, 'Cluster A deleted region', 11, { align: 'center' }),
    text(616, 329, 'Cluster B&C amplified region', 11, { align: 'center' }),
    text(851, 329, 'Cluster B&C deleted region', 11, { align: 'center' }),
    text(243, 415, 'ClusterA copy number gistic score', 11, { align: 'center' }),
    text(685, 415, 'ClusterB&C copy number gistic score', 11, { align: 'center' }),
    text(892.5, 511, 'Type', 12),
    text(688, 666, 'Alterations', 10)
];

function swatch(x, y, color, w, h) {
    return { type: 'rect', silent: true, shape: { x: x, y: y - h / 2, width: w, height: h }, style: { fill: color } };
}

var alterationLegendY = [679, 690, 698, 707, 717, 726, 735, 744, 754];
alterationNames.forEach(function (name, i) {
    graphics.push(swatch(683.5, alterationLegendY[i], alterationColors[i], 8, 8));
    graphics.push(text(697, alterationLegendY[i], name, 10));
});

function sideLegend(x, titleY, title, names, colors, ys) {
    graphics.push(text(x, titleY, title, 11));
    names.forEach(function (name, i) {
        graphics.push(swatch(x, ys[i], colors[i], 7, 7));
        graphics.push(text(x + 10, ys[i], name, 11));
    });
}
sideLegend(805, 762, 'Gender', ['female', 'male'], ['#12adae', '#f0a830'], [771, 779]);
sideLegend(805, 857, 'Race', ['asian', 'black or african american', 'not reported', 'white'], ['#a6d5e6', '#b5309b', GREY, '#d98cc6'], [865, 874, 882, 890]);
sideLegend(805, 901, 'PN', ['N0', 'N1', 'NX'], [RED, RED, GREY], [910, 918, 926]);
sideLegend(805, 944, 'PM', ['M0', 'M1', 'MX'], [RED, RED, GREY], [953, 962, 970]);
sideLegend(805, 983, 'PT', ['T1', 'T2', 'T3', 'T4'], [RED, RED, RED2, RED3], [994, 1002, 1009, 1017]);
sideLegend(805, 1036, 'Grade', ['G1', 'G2', 'G3', 'G4', 'GX'], [RED, RED, RED2, RED3, GREY], [1047, 1054, 1062, 1070, 1078]);
sideLegend(805, 1094, 'Stage', ['not reported', 'stage i', 'stage ii', 'stage iii', 'stage iv'], [GREY, RED, RED, RED2, RED3], [1103, 1112, 1119, 1127, 1135]);
sideLegend(800, 1159, 'Cluster', ['ClusterA', 'ClusterB & C'], ['#6a3096', '#7ccbd8'], [1168, 1178]);

// age colour bar
var ageTicks = ['100', '80', '60', '40', '20', '0'];
var ageTickY = [801, 810, 819, 828, 837, 845];
graphics.push(text(805, 790, 'Age', 11));
graphics.push({
    type: 'rect', silent: true, shape: { x: 805, y: 800, width: 8, height: 48 },
    style: {
        fill: new echarts.graphic.LinearGradient(0, 0, 0, 1, [
            { offset: 0, color: '#8c0c12' }, { offset: 0.4, color: '#d80c16' }, { offset: 0.7, color: '#e60f1a' }, { offset: 0.88, color: '#f47a50' }, { offset: 1, color: '#ffffff' }
        ])
    }
});
ageTicks.forEach(function (t, i) {
    graphics.push({ type: 'rect', silent: true, shape: { x: 805, y: ageTickY[i], width: 8, height: 0.8 }, style: { fill: '#fff' } });
    graphics.push(text(815, ageTickY[i], t, 11));
});

var chart = echarts.init(document.getElementById('chart'), null, { renderer: 'canvas' });
chart.setOption({
    animation: false,
    backgroundColor: '#fff',
    textStyle: { fontFamily: FONT },
    grid: grids,
    xAxis: xAxes,
    yAxis: yAxes,
    series: series,
    graphic: graphics,
    legend: {
        data: ['Amp', 'Del'], left: 893, top: 520, padding: 0, orient: 'vertical', itemWidth: 14, itemHeight: 14.5, itemGap: 0, icon: 'rect', selectedMode: false,
        textStyle: { fontSize: 12, color: '#222' }
    }
});
</script>
</body>
</html>
